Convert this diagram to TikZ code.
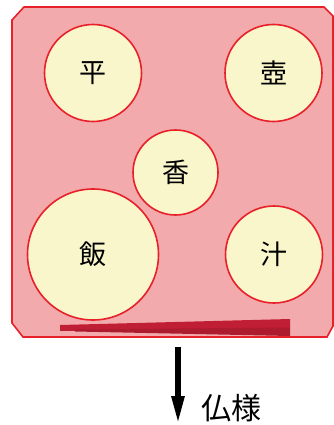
\documentclass[tikz,border=0pt]{standalone}
\usepackage{fontspec}
\newfontfamily\cjk{Noto Sans CJK JP}
\usetikzlibrary{arrows.meta}
\definecolor{trayfill}{RGB}{242,170,172}
\definecolor{trayline}{RGB}{232,32,42}
\definecolor{dishfill}{RGB}{250,246,204}
\definecolor{stick}{RGB}{192,30,52}
\tikzset{
  dish/.style={circle, draw=trayline, line width=1.6pt, fill=dishfill, inner sep=0pt, font=\cjk\fontsize{27}{27}\selectfont},
}
\begin{document}
\begin{tikzpicture}[x=1pt,y=-1pt]
\useasboundingbox (0,0) rectangle (333,425);
% tray
\draw[trayline, line width=1.6pt, fill=trayfill]
  (24,7) -- (324,7) -- (333,16) -- (333,326) -- (327,337) -- (23,337) -- (12,323) -- (12,20) -- cycle;
% dishes
\node[dish, minimum size=97] (hira) at (93,73) {平};
\node[dish, minimum size=97] (tsubo) at (273.5,73) {壺};
\node[dish, minimum size=85] (kou) at (175.5,172.5) {香};
\node[dish, minimum size=131] (meshi) at (93,254.5) {飯};
\node[dish, minimum size=97] (shiru) at (274,254.5) {汁};
% chopsticks
\fill[stick] (60,325) -- (290,319) -- (290,328) -- (60,331) -- cycle;
\fill[stick!90!black] (75,329.5) -- (290,327.5) -- (290,336) -- (75,331.5) -- cycle;
% arrow
\coordinate (atop) at (178,347);
\coordinate (abot) at (178,424);
\draw[line width=5.5, -{Triangle[width=12,length=28]}] (atop) -- (abot);
\node[anchor=west, font=\cjk\fontsize{30}{30}\selectfont, inner sep=0pt] (hotoke) at (201,408) {仏様};
\end{tikzpicture}
\end{document}
